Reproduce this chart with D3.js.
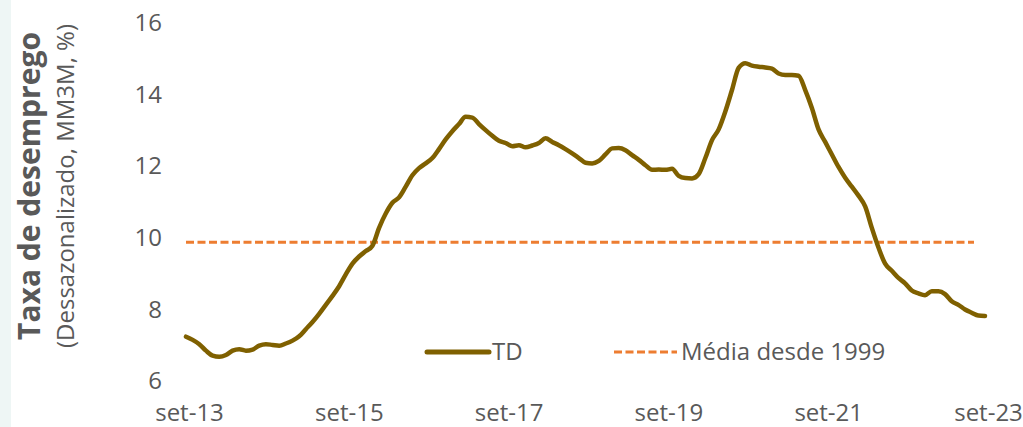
<!DOCTYPE html>
<html>
<head>
<meta charset="utf-8">
<script src="https://cdn.jsdelivr.net/npm/d3@7"></script>
<style>
  body { margin: 0; background: #fff; }
  text { font-family: "Open Sans", Lato, sans-serif; fill: #595959; }
</style>
</head>
<body>
<svg id="chart" width="1023" height="427"></svg>
<script>
// taxa de desemprego, dessazonalizada, MM3M (%) - mensal, set-13 .. set-23
var tdValues = [
    7.21, 7.12, 7.00, 6.82, 6.68, 6.65, 6.70, 6.82, 6.86, 6.82, 6.85, 6.96,
    7.00, 6.98, 6.96, 7.02, 7.10, 7.22, 7.42, 7.62, 7.85, 8.10, 8.35, 8.62,
    8.95, 9.25, 9.45, 9.60, 9.75, 10.25, 10.65, 10.95, 11.10, 11.40, 11.72, 11.92,
    12.05, 12.20, 12.45, 12.72, 12.95, 13.15, 13.35, 13.33, 13.15, 12.98, 12.82, 12.68,
    12.62, 12.53, 12.56, 12.50, 12.55, 12.62, 12.75, 12.65, 12.56, 12.45, 12.33, 12.20,
    12.07, 12.05, 12.12, 12.30, 12.47, 12.48, 12.42, 12.28, 12.15, 12.00, 11.87, 11.88,
    11.87, 11.90, 11.70, 11.64, 11.63, 11.75, 12.20, 12.70, 13.00, 13.50, 14.10, 14.72,
    14.85, 14.78, 14.75, 14.73, 14.70, 14.56, 14.52, 14.52, 14.50, 14.10, 13.60, 13.00,
    12.65, 12.30, 11.95, 11.65, 11.40, 11.15, 10.85, 10.25, 9.70, 9.25, 9.05, 8.85,
    8.70, 8.50, 8.42, 8.37, 8.48, 8.48, 8.40, 8.20, 8.10, 7.97, 7.88, 7.80,
    7.79
];
var mediaDesde1999 = 9.85;

var xTickIndex = [0, 24, 48, 72, 96, 120];
var xTickLabels = ['set-13', 'set-15', 'set-17', 'set-19', 'set-21', 'set-23'];
var yTicks = [6, 8, 10, 12, 14, 16];
var legendLabels = ['TD', 'Média desde 1999'];

var svg = d3.select('#chart');

var lineColor = '#7f6000',
    avgColor = '#ed7d31';

// faixa clara a esquerda
svg.append('rect')
    .attr('x', 0).attr('y', 0)
    .attr('width', 11).attr('height', 427)
    .style('fill', '#eef6f5');

var x = d3.scaleLinear().domain([0, tdValues.length - 1]).range([186, 985]);
var y = d3.scaleLinear().domain([6, 16]).range([380, 22]);

// eixo y (apenas rotulos)
var yAxis = d3.axisLeft(y).tickValues(yTicks).tickSize(0).tickPadding(0);
var gy = svg.append('g')
    .attr('transform', 'translate(162,0)')
    .call(yAxis);
gy.select('.domain').remove();
gy.selectAll('text')
    .style('font-size', '24px')
    .attr('dy', '0.36em');

// eixo x (apenas rotulos)
var xAxis = d3.axisBottom(x)
    .tickValues(xTickIndex)
    .tickFormat(function (d, i) { return xTickLabels[i]; })
    .tickSize(0).tickPadding(0);
var gx = svg.append('g')
    .attr('transform', 'translate(3,0)')
    .call(xAxis);
gx.select('.domain').remove();
gx.selectAll('text')
    .style('font-size', '24px')
    .attr('y', 421)
    .attr('dy', 0);

// titulos do eixo y
svg.append('text')
    .attr('transform', 'translate(40,186) rotate(-90)')
    .attr('text-anchor', 'middle')
    .style('font-size', '30px')
    .style('font-weight', 'bold')
    .text('Taxa de desemprego');
svg.append('text')
    .attr('transform', 'translate(74,186) rotate(-90)')
    .attr('text-anchor', 'middle')
    .style('font-size', '24px')
    .text('(Dessazonalizado, MM3M, %)');

// linha da media
svg.append('line')
    .attr('x1', x(0)).attr('x2', 974)
    .attr('y1', y(mediaDesde1999)).attr('y2', y(mediaDesde1999))
    .style('stroke', avgColor)
    .style('stroke-width', 3)
    .style('stroke-dasharray', '8,3.5');

// linha TD
var line = d3.line()
    .x(function (d, i) { return x(i); })
    .y(function (d) { return y(d); })
    .curve(d3.curveMonotoneX);

svg.append('path')
    .datum(tdValues)
    .attr('d', line)
    .style('fill', 'none')
    .style('stroke', lineColor)
    .style('stroke-width', 4.5)
    .style('stroke-linejoin', 'round')
    .style('stroke-linecap', 'round');

// legenda
var legend = svg.append('g');
legend.append('line')
    .attr('x1', 427).attr('x2', 489)
    .attr('y1', 352).attr('y2', 352)
    .style('stroke', lineColor)
    .style('stroke-width', 5)
    .style('stroke-linecap', 'round');
legend.append('text')
    .attr('x', 492).attr('y', 360)
    .style('font-size', '24px')
    .text(legendLabels[0]);
legend.append('line')
    .attr('x1', 614).attr('x2', 677)
    .attr('y1', 352).attr('y2', 352)
    .style('stroke', avgColor)
    .style('stroke-width', 3)
    .style('stroke-dasharray', '8,3.5');
legend.append('text')
    .attr('x', 681).attr('y', 360)
    .style('font-size', '24px')
    .text(legendLabels[1]);
</script>
</body>
</html>
